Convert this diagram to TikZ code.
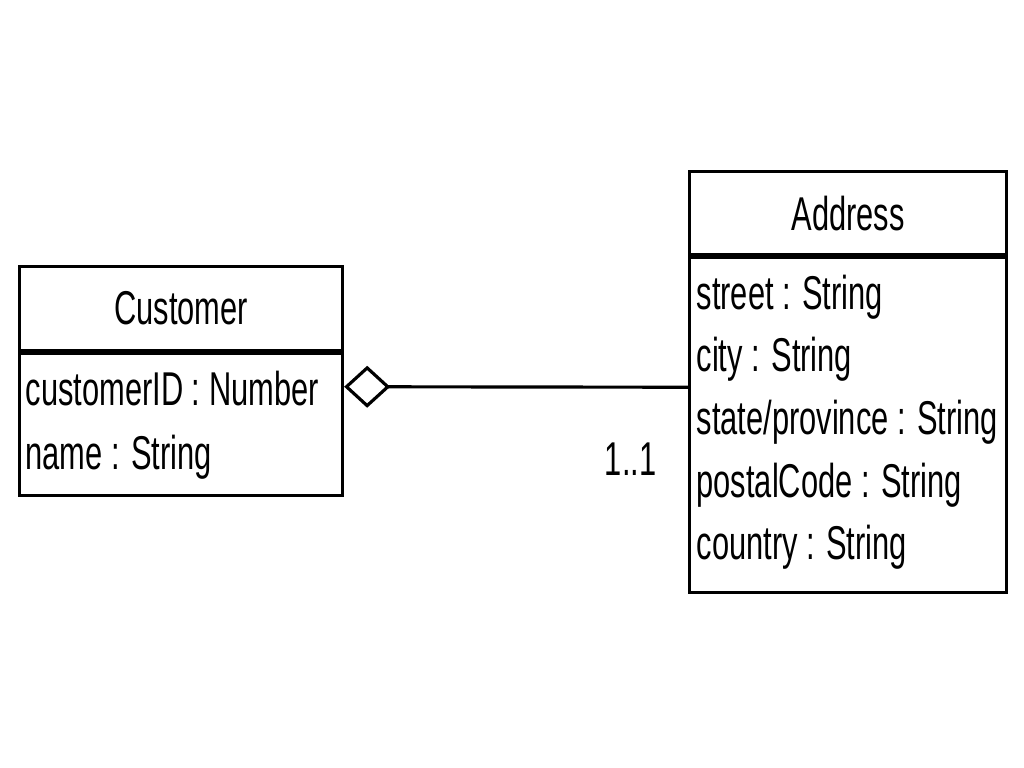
\documentclass[tikz,border=0pt]{standalone}
\usepackage{fontspec}
\newfontfamily\umlfont[FakeStretch=0.65]{Liberation Sans}
\usetikzlibrary{arrows.meta}
\begin{document}
\begin{tikzpicture}[
        classtitle/.style={rectangle, draw, line width=0.9pt, inner sep=0pt, anchor=north west,
          font={\umlfont\fontsize{13.5}{16}\selectfont}},
        classbody/.style={rectangle, draw, line width=0.9pt, inner sep=0pt, anchor=north},
        attr/.style={anchor=base west, inner sep=0pt, font={\umlfont\fontsize{13.5}{16}\selectfont}},
        mult/.style={anchor=north east, inner sep=0pt, font={\umlfont\fontsize{13.5}{16}\selectfont}},
        aggr/.style={line width=0.9pt, {Diamond[open, length=4.6mm, width=4.2mm, line width=0.9pt]}-}
      ]
      \useasboundingbox (0,0) rectangle (10.24,7.68);
      % Customer
      \node[classtitle, minimum width=3.23cm, minimum height=0.84cm] (custtitle) at (0.18,5.03) {Customer};
      \node[classbody, minimum width=3.23cm, minimum height=1.42cm] (custbody) at (custtitle.south) {};
      \foreach \txt [count=\i] in {customerID : Number, name : String}
        \node[attr] (custattr\i) at ([xshift=0.7mm, yshift={-(5.3+6.4*(\i-1))*1mm}]custbody.north west) {\txt};
      % Address
      \node[classtitle, minimum width=3.17cm, minimum height=0.83cm] (addrtitle) at (6.88,5.98) {Address};
      \node[classbody, minimum width=3.17cm, minimum height=3.35cm] (addrbody) at (addrtitle.south) {};
      \foreach \txt [count=\i] in {street : String, city : String, state/province : String, postalCode : String, country : String}
        \node[attr] (addrattr\i) at ([xshift=0.8mm, yshift={-(5.3+6.27*(\i-1))*1mm}]addrbody.north west) {\txt};
      % association
      \draw[aggr] ([yshift=3.8mm]custbody.east) -- ([yshift=3.8mm]addrbody.west);
      \node[mult] (addrmult) at ([xshift=-3.1mm, yshift=-1.7mm]addrbody.west) {1..1};
    \end{tikzpicture}
\end{document}
